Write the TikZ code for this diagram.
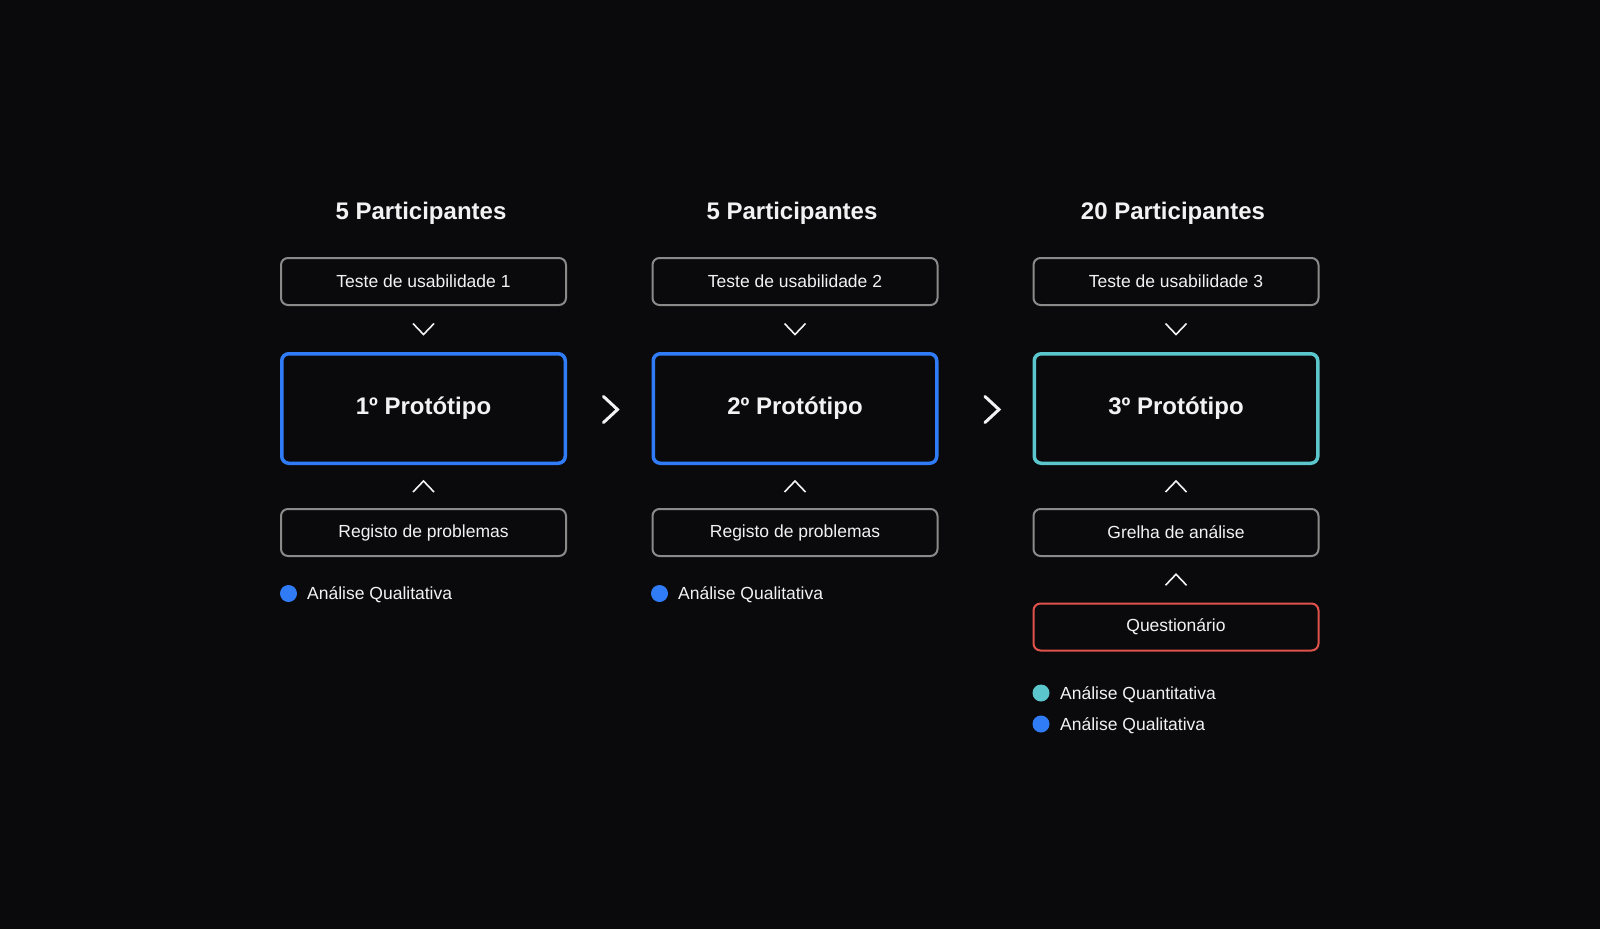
\documentclass[tikz,border=0pt]{standalone}
\usepackage{fontspec}
\setmainfont{Liberation Sans}
\usepackage{tikz}
\usetikzlibrary{positioning,calc}
\usepackage{xcolor}

\definecolor{bgdark}{HTML}{0A0A0C}
\definecolor{protoblue}{HTML}{2F7CF6}
\definecolor{prototeal}{HTML}{5BC6CC}
\definecolor{quizred}{HTML}{E0524C}
\definecolor{boxgray}{HTML}{8A8A8A}
\definecolor{softwhite}{HTML}{F2F2F2}

\tikzset{
    heading/.style={text=softwhite, anchor=base, font=\bfseries\fontsize{24}{28}\selectfont},
    stepbox/.style={draw=boxgray, line width=2pt, rounded corners=7pt, fill=bgdark,
        minimum width=285pt, minimum height=47pt, text=softwhite, font=\fontsize{17.5}{20}\selectfont},
    protobox/.style={draw=protoblue, line width=3.5pt, rounded corners=7pt, fill=bgdark,
        minimum width=283.5pt, minimum height=109.5pt, text=softwhite, font=\bfseries\fontsize{24}{28}\selectfont},
    legendtext/.style={text=softwhite, anchor=base west, inner sep=0pt, font=\fontsize{17.5}{20}\selectfont},
    smallchev/.style={softwhite, line width=1.6pt, line join=miter},
    bigchev/.style={softwhite, line width=3pt, line join=miter, line cap=round},
}

\newcommand{\chevdown}[1]{\draw[smallchev] ($(#1)+(-10.5,-5.5)$) -- ++(10.5,11) -- ++(10.5,-11);}
\newcommand{\chevup}[1]{\draw[smallchev] ($(#1)+(-10.5,5.5)$) -- ++(10.5,-11) -- ++(10.5,11);}
\newcommand{\chevright}[1]{\draw[bigchev] ($(#1)+(-7,-13)$) -- ++(14,13) -- ++(-14,13);}

\begin{document}
\begin{tikzpicture}[x=1pt, y=-1pt]
    % Background
    \fill[bgdark] (0,0) rectangle (1600,929);
    \useasboundingbox (0,0) rectangle (1600,929);

    % Headings
    \node[heading] (h1) at (421, 219) {5 Participantes};
    \node[heading] (h2) at (792, 219) {5 Participantes};
    \node[heading] (h3) at (1173, 219) {20 Participantes};

    % Usability tests
    \node[stepbox] (t1) at (423.5, 281.5) {Teste de usabilidade 1};
    \node[stepbox] (t2) at (795, 281.5) {Teste de usabilidade 2};
    \node[stepbox] (t3) at (1176, 281.5) {Teste de usabilidade 3};

    % Prototypes
    \node[protobox] (p1) at (423.5, 408.5) {1º Protótipo};
    \node[protobox] (p2) at (795, 408.5) {2º Protótipo};
    \node[protobox, draw=prototeal] (p3) at (1176, 408.5) {3º Protótipo};

    % Analysis sources
    \node[stepbox] (b1) at (423.5, 532.5) {Registo de problemas};
    \node[stepbox] (b2) at (795, 532.5) {Registo de problemas};
    \node[stepbox] (b3) at (1176, 532.5) {Grelha de análise};
    \node[stepbox, draw=quizred] (q3) at (1176, 627) {Questionário};

    % Small chevrons
    \chevdown{$(t1.south)!0.5!(p1.north)$}
    \chevdown{$(t2.south)!0.5!(p2.north)$}
    \chevdown{$(t3.south)!0.5!(p3.north)$}
    \chevup{$(p1.south)!0.5!(b1.north)$}
    \chevup{$(p2.south)!0.5!(b2.north)$}
    \chevup{$(p3.south)!0.5!(b3.north)$}
    \chevup{$(b3.south)!0.5!(q3.north)$}

    % Steps between prototypes
    \coordinate (a1) at (610.5, 409.5);
    \coordinate (a2) at (992, 409.5);
    \chevright{a1}
    \chevright{a2}

    % Legends
    \fill[protoblue] (288.5, 593.5) circle (8.5);
    \node[legendtext] (l1) at (307, 599) {Análise Qualitativa};
    \fill[protoblue] (659.5, 593.5) circle (8.5);
    \node[legendtext] (l2) at (678, 599) {Análise Qualitativa};
    \fill[prototeal] (1041, 693) circle (8.5);
    \node[legendtext] (l3) at (1060, 699) {Análise Quantitativa};
    \fill[protoblue] (1041, 724) circle (8.5);
    \node[legendtext] (l4) at (1060, 730) {Análise Qualitativa};

\end{tikzpicture}
\end{document}
